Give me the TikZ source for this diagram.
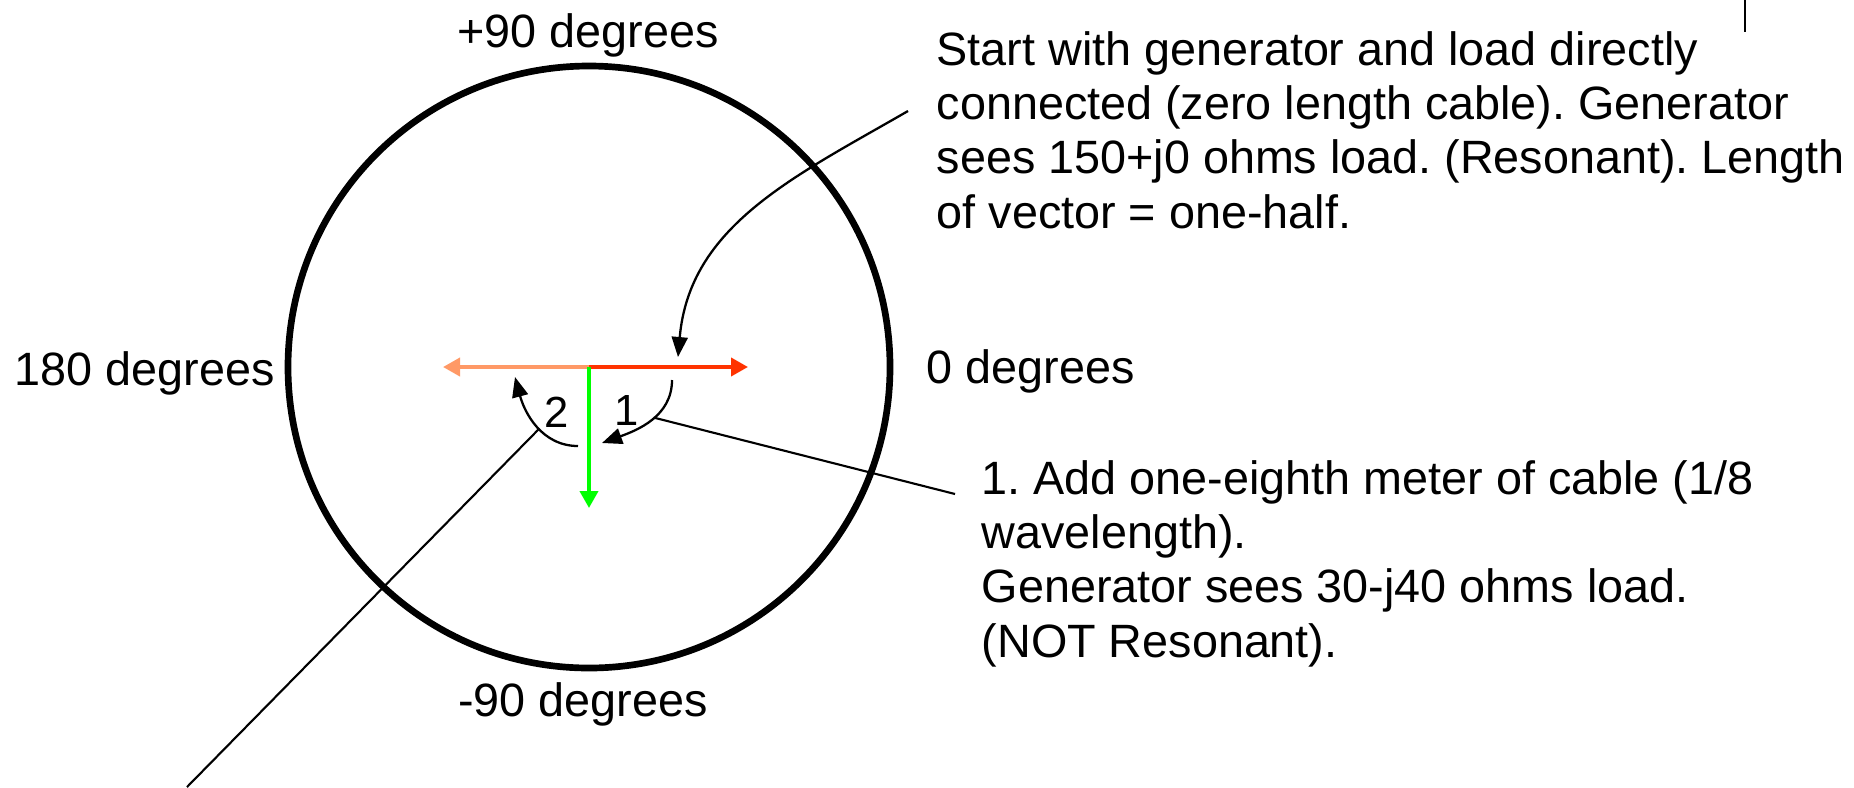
\documentclass[tikz,border=0pt]{standalone}
\usepackage{fontspec}
\setmainfont{Liberation Sans}
\usetikzlibrary{arrows.meta}
\definecolor{vred}{HTML}{FF3300}
\definecolor{vsalmon}{HTML}{FF9966}
\definecolor{vgreen}{HTML}{00FF00}
\frenchspacing
\begin{document}
\begin{tikzpicture}[every node/.style={inner sep=0pt,font=\fontsize{13.3}{15.45}\selectfont},
    vec/.style={line width=1.1pt,-{Triangle[length=0.17cm,width=0.18cm]}},
    turn/.style={line width=0.65pt,-{Triangle[length=0.2cm,width=0.16cm]}},
    lead/.style={line width=0.6pt}]
    \useasboundingbox (0,0) rectangle (18.54,7.87);
    \node[circle,draw,line width=1.9pt,minimum size=6.02cm] (c) at (5.89,4.20) {};
    \coordinate (o) at (5.89,4.20);
    \coordinate (r) at (7.48,4.20);
    \coordinate (s) at (4.43,4.20);
    \coordinate (g) at (5.89,2.79);
    \draw[vec,vsalmon] (o)--(s);
    \draw[vec,vred] (o)--(r);
    \draw[vec,vgreen] (o)--(g);
    % turning arcs
    \coordinate (p1) at (6.72,4.07);
    \coordinate (q1) at (6.02,3.44);
    \coordinate (p2) at (5.78,3.41);
    \coordinate (q2) at (5.15,4.10);
    \draw[turn] (p1) to[out=-90,in=20] coordinate[pos=0.45] (m1) (q1);
    \draw[turn] (p2) to[out=180,in=-75] coordinate[pos=0.45] (m2) (q2);
    \node[font=\fontsize{12.4}{14}\selectfont] (n1) at (6.27,3.77) {1};
    \node[font=\fontsize{12.4}{14}\selectfont] (n2) at (5.57,3.75) {2};
    % labels
    \node[anchor=base] (d90) at (5.88,7.40) {+90 degrees};
    \node[anchor=base west] (d180) at (0.14,4.02) {180 degrees};
    \node[anchor=base west] (d0) at (9.26,4.04) {0 degrees};
    \node[anchor=base] (dm90) at (5.83,0.71) {-90 degrees};
    \node[anchor=base west,align=left] (ta) at (9.36,5.59) {Start with generator and load directly\\
        connected (zero length cable). Generator\\
        sees 150+j0 ohms load. (Resonant). Length\\
        of vector = one-half.};
    \node[anchor=base west,align=left] (tb) at (9.81,1.30) {1. Add one-eighth meter of cable (1/8\\
        wavelength).\\
        Generator sees 30-j40 ohms load.\\
        (NOT Resonant).};
    % leaders
    \coordinate (t) at (9.08,6.76);
    \coordinate (u) at (6.78,4.30);
    \draw[turn] (t) to[out=210,in=85] (u);
    \coordinate (z1) at (9.55,2.93);
    \coordinate (z2) at (1.87,0);
    \draw[lead] (m1)--(z1);
    \draw[lead] (m2)--(z2);
    \draw[lead] (17.45,7.87)--(17.45,7.55);
\end{tikzpicture}
\end{document}
